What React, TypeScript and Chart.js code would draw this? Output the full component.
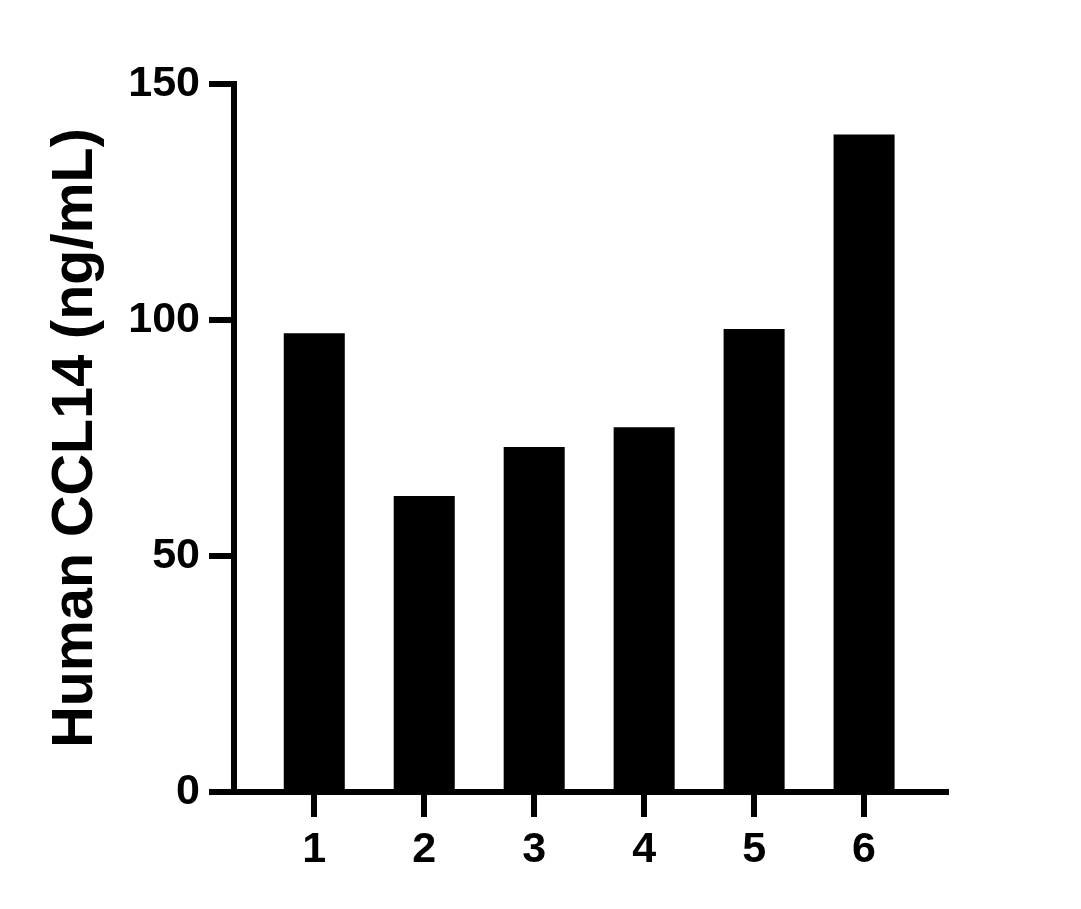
import { useEffect, useRef } from "react";
import { Chart, registerables } from "chart.js";

Chart.register(...registerables);

// data
const groups = [1, 2, 3, 4, 5, 6];
const ccl14 = [97.2, 62.7, 73.1, 77.3, 98.1, 139.3];
const yTicks = [0, 50, 100, 150];

const FONT = "'Liberation Sans', Arial, Helvetica, sans-serif";

export default function App() {
  const canvasRef = useRef<HTMLCanvasElement | null>(null);
  const chartRef = useRef<Chart | null>(null);

  useEffect(() => {
    const ctx = canvasRef.current?.getContext("2d");
    if (!ctx) return;
    chartRef.current?.destroy();

    chartRef.current = new Chart(ctx, {
      type: "bar",
      data: {
        datasets: [
          {
            label: "Human CCL14",
            data: groups.map((g, i) => ({ x: g, y: ccl14[i] })),
            backgroundColor: "#000000",
            borderWidth: 0,
            categoryPercentage: 1,
            barPercentage: 0.555,
          },
        ],
      },
      options: {
        responsive: true,
        maintainAspectRatio: false,
        animation: false,
        layout: { padding: { top: 84, right: 135, bottom: 0, left: 0 } },
        plugins: {
          legend: { display: false },
          tooltip: { enabled: false },
        },
        scales: {
          x: {
            type: "linear",
            offset: false,
            min: 0.27,
            max: 6.745,
            afterBuildTicks: (scale) => {
              scale.ticks = groups.map((g) => ({ value: g }));
            },
            afterFit: (scale) => {
              scale.height = 117;
            },
            grid: {
              offset: false,
              drawOnChartArea: false,
              drawTicks: true,
              tickLength: 25,
              lineWidth: 6,
              color: "#000000",
            },
            border: { display: true, width: 6, color: "#000000" },
            ticks: {
              color: "#000000",
              padding: 7,
              font: { family: FONT, size: 43, weight: "bold" },
              callback: (v) => String(v),
            },
          },
          y: {
            min: 0,
            max: 150,
            afterBuildTicks: (scale) => {
              scale.ticks = yTicks.map((v) => ({ value: v }));
            },
            afterFit: (scale) => {
              scale.width = 234;
            },
            grid: {
              drawOnChartArea: false,
              drawTicks: true,
              tickLength: 25,
              lineWidth: 6,
              color: "#000000",
            },
            border: { display: true, width: 6, color: "#000000" },
            ticks: {
              color: "#000000",
              padding: 9,
              font: { family: FONT, size: 43, weight: "bold" },
            },
            title: {
              display: true,
              text: "Human CCL14 (ng/mL)",
              color: "#000000",
              padding: { top: 42, bottom: 0 },
              font: { family: FONT, size: 57.5, weight: "bold" },
            },
          },
        },
      },
    });

    return () => {
      chartRef.current?.destroy();
      chartRef.current = null;
    };
  }, []);

  return (
    <div
      style={{
        position: "fixed",
        left: 0,
        top: 0,
        width: 1081,
        height: 909,
        background: "#ffffff",
      }}
    >
      <canvas ref={canvasRef} />
    </div>
  );
}
